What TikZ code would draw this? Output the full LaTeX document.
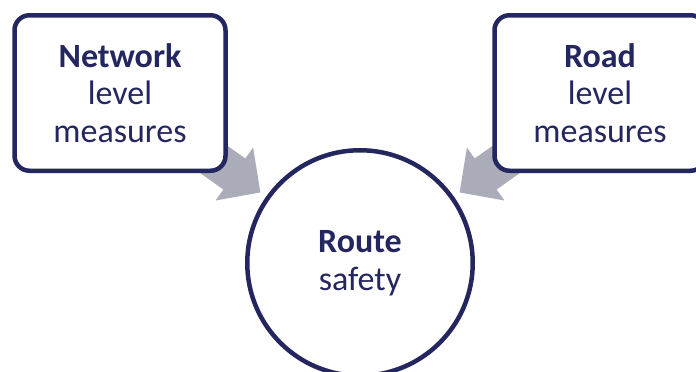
\documentclass[tikz,border=0pt]{standalone}
\usepackage{fontspec}
\setmainfont{Carlito}
\usetikzlibrary{arrows.meta,backgrounds}
\definecolor{navy}{HTML}{24265F}
\definecolor{arrowgray}{HTML}{ABACB9}
\begin{document}
\begin{tikzpicture}[x=1pt,y=-1pt,
  lbl/.style={text=navy, align=center, font=\fontsize{34}{37.5}\selectfont},
  box/.style={lbl, draw=navy, line width=4.5pt, rounded corners=15pt, fill=white,
    minimum width=211pt, minimum height=155.5pt, inner sep=0pt},
  hub/.style={lbl, circle, draw=navy, line width=4.5pt, fill=white,
    minimum size=225.5pt, inner sep=0pt},
  flow/.style={draw=arrowgray, line width=38pt,
    -{Triangle[width=63pt,length=32pt]}, shorten >=7pt}]
\useasboundingbox (0,0) rectangle (696,372);
\clip (0,0) rectangle (696,372);
\node[box] (L) at (120,93) {\textbf{Network}\\level\\measures};
\node[box] (R) at (600,93) {\textbf{Road}\\level\\measures};
\node[hub] (C) at (360,263) {\textbf{Route}\\safety};
\begin{scope}[on background layer]
  \draw[flow] (L.center) -- (C);
  \draw[flow] (R.center) -- (C);
\end{scope}
\end{tikzpicture}
\end{document}
